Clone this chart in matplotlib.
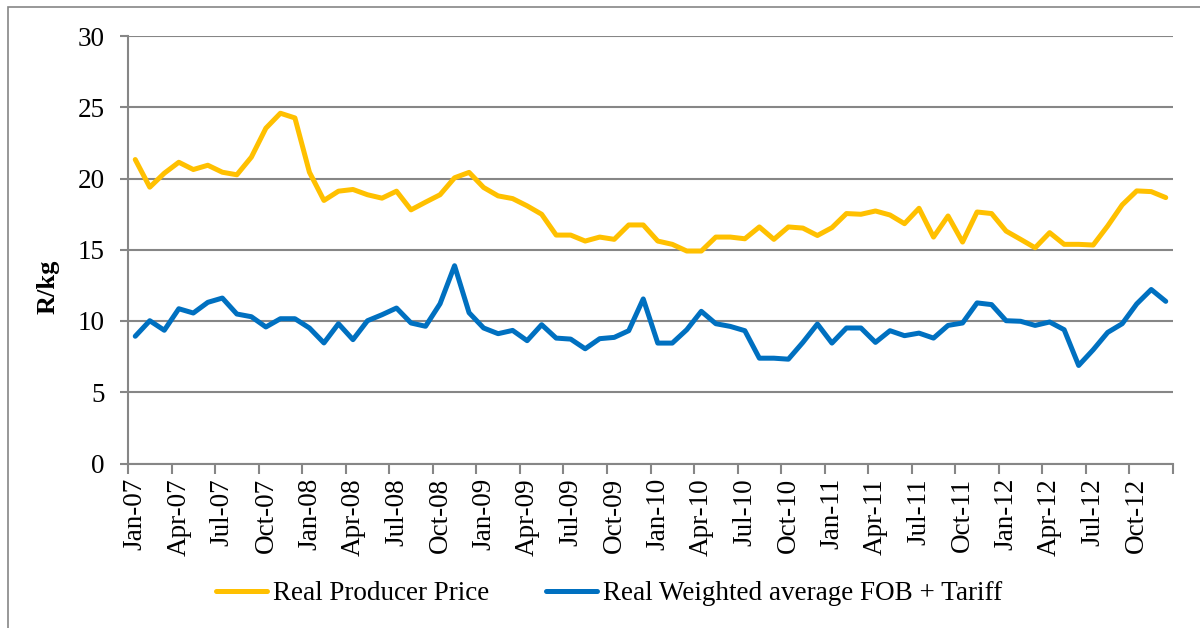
import matplotlib
matplotlib.use("Agg")
import matplotlib.pyplot as plt
from matplotlib.patches import Rectangle
import numpy as np
import pandas as pd

plt.rcParams["font.family"] = ["Liberation Serif", "DejaVu Serif"]

# monthly series, Jan-07 .. Dec-12 (R/kg)
months = pd.date_range("2007-01-01", periods=72, freq="MS").strftime("%b-%y").tolist()

producer = [21.33, 19.39, 20.37, 21.14, 20.63, 20.93, 20.44, 20.26, 21.50, 23.53, 24.58, 24.25,
            20.44, 18.46, 19.11, 19.23, 18.86, 18.62, 19.11, 17.80, 18.34, 18.86, 20.05, 20.43,
            19.37, 18.78, 18.59, 18.08, 17.49, 16.03, 16.03, 15.61, 15.89, 15.73, 16.74, 16.74,
            15.61, 15.38, 14.91, 14.91, 15.89, 15.89, 15.77, 16.60, 15.73, 16.60, 16.52, 16.00,
            16.55, 17.54, 17.49, 17.72, 17.44, 16.83, 17.91, 15.89, 17.37, 15.54, 17.65, 17.54,
            16.31, 15.73, 15.14, 16.20, 15.38, 15.38, 15.33, 16.67, 18.15, 19.13, 19.08, 18.66]

fob_tariff = [8.93, 10.02, 9.35, 10.86, 10.56, 11.31, 11.61, 10.49, 10.30, 9.58, 10.16, 10.16,
              9.51, 8.46, 9.81, 8.69, 10.02, 10.44, 10.91, 9.86, 9.63, 11.21, 13.88, 10.58,
              9.51, 9.11, 9.34, 8.62, 9.74, 8.80, 8.73, 8.05, 8.76, 8.85, 9.32, 11.55,
              8.45, 8.45, 9.39, 10.68, 9.81, 9.62, 9.32, 7.39, 7.39, 7.32, 8.50, 9.79,
              8.45, 9.51, 9.51, 8.50, 9.32, 8.97, 9.15, 8.80, 9.69, 9.86, 11.27, 11.15,
              10.02, 9.98, 9.69, 9.93, 9.39, 6.88, 7.98, 9.20, 9.81, 11.20, 12.21, 11.38]

W, H = 1200, 628
fig = plt.figure(figsize=(W / 100, H / 100), dpi=100)
ax = fig.add_axes([128 / W, 1 - 463.5 / H, (1173 - 128) / W, (463.5 - 36) / H])

grey = "#868686"
x = np.arange(len(months))
ax.plot(x, producer, color="#FFC000", lw=3.6, solid_joinstyle="round",
        solid_capstyle="round", label="Real Producer Price", zorder=3)
ax.plot(x, fob_tariff, color="#0070C0", lw=3.6, solid_joinstyle="round",
        solid_capstyle="round", label="Real Weighted average FOB + Tariff", zorder=3)

ax.set_xlim(-0.5, len(months) - 0.5)
ax.set_ylim(0, 30)
ax.set_yticks(range(0, 31, 5))
ax.grid(axis="y", color=grey, lw=1.5)
ax.set_axisbelow(True)

# tick marks at category boundaries, labels at category centres
ax.set_xticks(np.arange(-0.5, len(months), 3))
ax.set_xticklabels([])
ax.set_xticks(x[::3], minor=True)
ax.set_xticklabels(months[::3], minor=True, rotation=90, fontsize=19.5)
ax.tick_params(axis="x", which="major", length=7, width=1.5, color=grey, direction="out")
ax.tick_params(axis="x", which="minor", length=0, pad=10.5)
ax.tick_params(axis="y", length=6, width=1.5, color=grey, labelsize=19.5, pad=11)

for s in ["top", "right"]:
    ax.spines[s].set_visible(False)
for s in ["left", "bottom"]:
    ax.spines[s].set_color(grey)
    ax.spines[s].set_linewidth(1.5)

fig.text(48 / W, 1 - 287 / H, "R/kg", rotation=90, fontsize=19, fontweight="bold",
         ha="center", va="center")

fig.legend(loc="center", bbox_to_anchor=(609 / W, 1 - 594 / H), ncol=2, frameon=False,
           fontsize=19.5, handlelength=1.9, handletextpad=0.2, columnspacing=2.1)

# outer chart border (left/top visible, rest runs off the image)
fig.add_artist(Rectangle((8 / W, -0.1), 1.2, 1.1 - 7 / H, transform=fig.transFigure,
                         fill=False, edgecolor=grey, lw=1.2, clip_on=False))

fig.savefig("out.png", dpi=100)
